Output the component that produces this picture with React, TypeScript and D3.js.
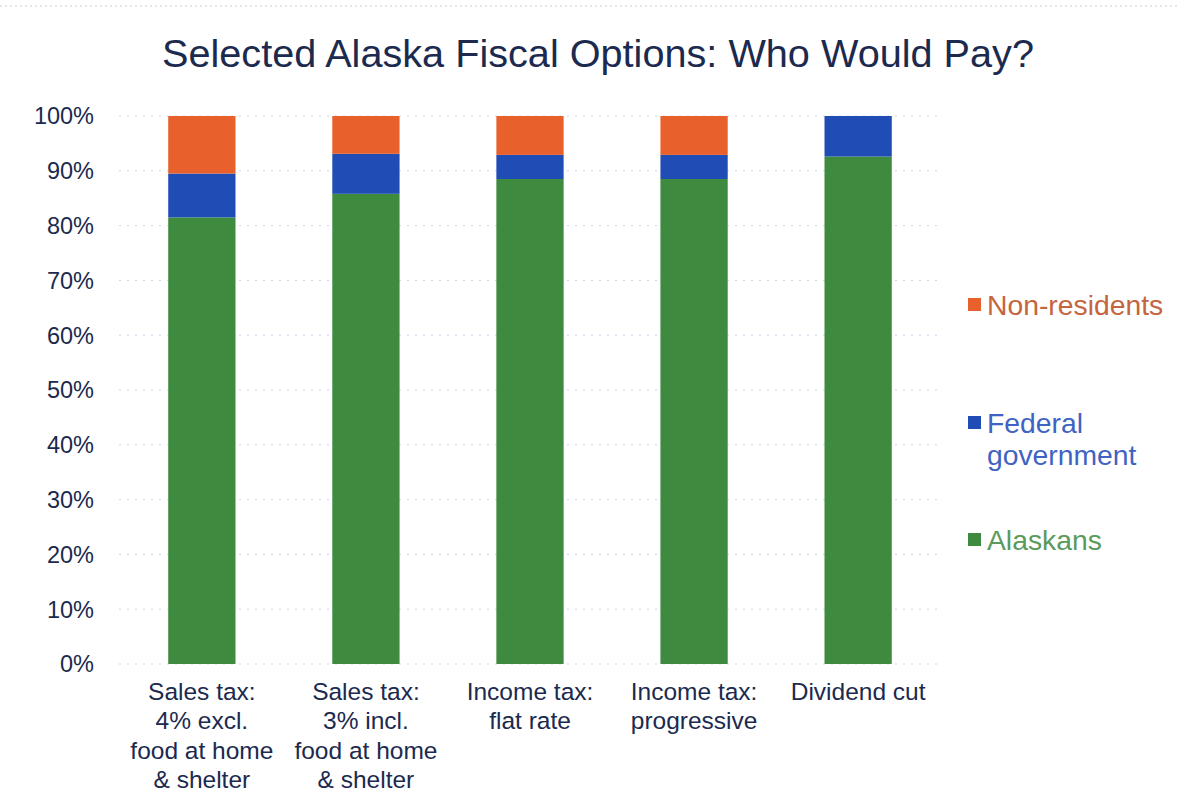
import React from "react";
import * as d3 from "d3";

const categories: string[][] = [
  ["Sales tax:", "4% excl.", "food at home", "& shelter"],
  ["Sales tax:", "3% incl.", "food at home", "& shelter"],
  ["Income tax:", "flat rate"],
  ["Income tax:", "progressive"],
  ["Dividend cut"],
];
const alaskans = [81.5, 85.8, 88.5, 88.5, 92.6];
const federal = [8.0, 7.3, 4.4, 4.4, 7.4];
const nonResidents = [10.5, 6.9, 7.1, 7.1, 0];
const seriesNames = ["Alaskans", "Federal government", "Non-residents"];
const yTicks = [0, 10, 20, 30, 40, 50, 60, 70, 80, 90, 100];

const W = 1177;
const H = 794;
const colors = ["#3E8A3E", "#1F4DB5", "#E8612C"];
const textColors = ["#5C9A5C", "#3F63C4", "#C4653E"];

export default function App() {
  const x = d3
    .scaleBand<number>()
    .domain(d3.range(categories.length))
    .range([119, 941])
    .paddingInner(0.59)
    .paddingOuter(0.3);
  const y = d3.scaleLinear().domain([0, 100]).range([664, 116]);

  const rows = categories.map((_, i) => ({
    i,
    a: alaskans[i],
    f: federal[i],
    n: nonResidents[i],
  }));
  const stack = d3.stack<any>().keys(["a", "f", "n"])(rows);
  const font = "'Liberation Sans', Arial, sans-serif";

  const legend = [
    { si: 2, lines: ["Non-residents"], y: 305 },
    { si: 1, lines: ["Federal", "government"], y: 423 },
    { si: 0, lines: ["Alaskans"], y: 540 },
  ];

  return (
    <svg width={W} height={H} style={{ position: "absolute", left: 0, top: 0, background: "#fff" }}>
      <rect x={0} y={0} width={W} height={H} fill="#fff" />
      <line x1={0} x2={W} y1={6} y2={6} stroke="#c8cdd8" strokeDasharray="2,3" strokeWidth={1} />
      <text
        x={598}
        y={67}
        textAnchor="middle"
        fontFamily={font}
        fontSize={38}
        fill="#1B2A4E"
        textLength={872}
        lengthAdjust="spacingAndGlyphs"
      >
        Selected Alaska Fiscal Options:  Who Would Pay?
      </text>
      {yTicks.map((t) => (
        <g key={t}>
          <line
            x1={119}
            x2={941}
            y1={y(t)}
            y2={y(t)}
            stroke="#c9d3ea"
            strokeDasharray="2,6"
            strokeWidth={1}
          />
          <text
            x={94}
            y={y(t)}
            dy="0.36em"
            textAnchor="end"
            fontFamily={font}
            fontSize={23.5}
            fill="#1B2A4E"
          >
            {t}%
          </text>
        </g>
      ))}
      {stack.map((s, si) => (
        <g key={si} fill={colors[si]}>
          {s.map((d, i) =>
            d[1] - d[0] > 0 ? (
              <rect
                key={i}
                x={x(i)}
                y={y(d[1])}
                width={x.bandwidth()}
                height={y(d[0]) - y(d[1])}
              />
            ) : null
          )}
        </g>
      ))}
      {categories.map((lines, i) => (
        <text
          key={i}
          textAnchor="middle"
          fontFamily={font}
          fontSize={24.5}
          fill="#1B2A4E"
        >
          {lines.map((l, j) => (
            <tspan key={j} x={(x(i) as number) + x.bandwidth() / 2} y={700 + j * 29.4}>
              {l}
            </tspan>
          ))}
        </text>
      ))}
      {legend.map((g) => (
        <g key={g.si}>
          <rect x={968} y={g.y - 7} width={13} height={13} fill={colors[g.si]} />
          <text fontFamily={font} fontSize={28.3} fill={textColors[g.si]}>
            {g.lines.map((l, j) => (
              <tspan key={j} x={987} y={g.y + 10 + j * 32}>
                {l}
              </tspan>
            ))}
          </text>
        </g>
      ))}
    </svg>
  );
}
